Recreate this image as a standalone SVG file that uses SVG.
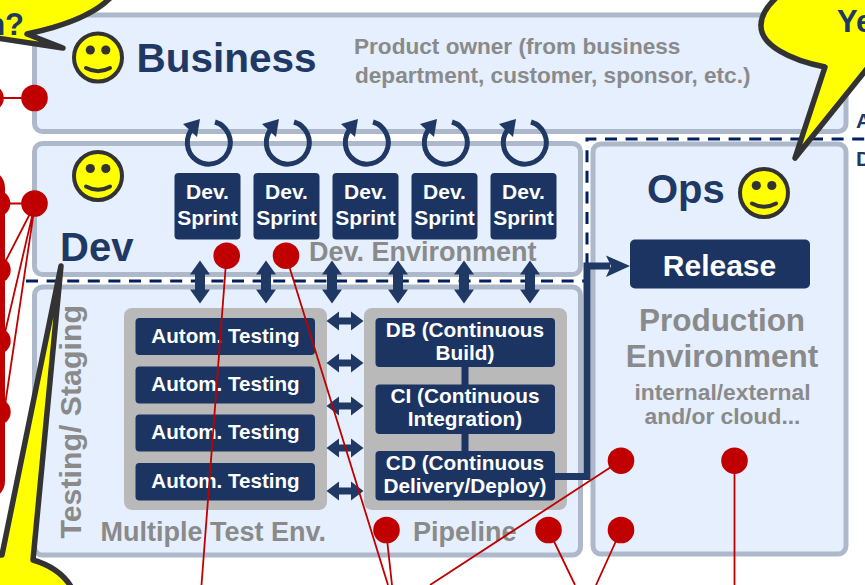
<svg xmlns="http://www.w3.org/2000/svg" xmlns:xlink="http://www.w3.org/1999/xlink" width="865" height="585" viewBox="0 0 865 585">
<style>
text{font-family:"Liberation Sans",Arial,sans-serif;font-weight:700}
.panel{fill:#e5effe;stroke:#adb9ca;stroke-width:5}
.box{fill:#1c3461}
.gray{fill:#b9b9b9}
.w{fill:#fff;text-anchor:middle}
.g{fill:#8a8a8a}
.n{fill:#1f3864}
.dash{fill:none;stroke:#002060;stroke-width:3;stroke-dasharray:12 8.6}
.red{fill:none;stroke:#c00000;stroke-width:1.8}
.dot{fill:#c00000}
.bub{fill:#ff0;stroke:#333;stroke-width:5.5;stroke-linejoin:round}
.arr{fill:#1f3864}
</style>
<defs>
<g id="smile">
<circle r="24" fill="#ff0" stroke="#333" stroke-width="4"/>
<circle cx="-7.7" cy="-7.5" r="4.6" fill="#333"/>
<circle cx="7.8" cy="-7.5" r="4.6" fill="#333"/>
<path d="M-12 10.5Q0 17 12 10.5" fill="none" stroke="#333" stroke-width="4" stroke-linecap="round"/>
</g>
<g id="loop">
<path d="M7.5 -20.5A21.5 21.5 0 1 1 -14 -15" fill="none" stroke="#1f3864" stroke-width="5"/>
<path d="M-24.5 -18.5L-7.5 -23.5L-10.500 -5.500Z" fill="#1f3864"/>
</g>
<path id="v" d="M0 -21.500L10 -7.500H5V7.500H10L0 21.500L-10 7.500H-5V-7.500H-10Z"/>
<path id="h" d="M-18.500 0L-6 -9.500V-3.500H6V-9.500L18.500 0L6 9.500V3.500H-6V9.500Z"/>
</defs>

<g id="panel-business"><rect class="panel" x="34.500" y="15" width="811.500" height="116.500" rx="8"/></g>
<g id="panel-dev"><rect class="panel" x="34.500" y="143.500" width="546" height="131" rx="8"/></g>
<g id="panel-testing"><rect class="panel" x="34.500" y="287" width="546" height="268" rx="8"/></g>
<g id="panel-ops"><rect class="panel" x="593" y="144" width="253" height="410" rx="8"/></g>

<path class="dash" d="M26 281H587V139H865"/>

<g id="business">
<use href="#smile" x="98" y="57.500"/>
<text class="n" x="136.500" y="72" font-size="40.500">Business</text>
<text class="g" x="354" y="54" font-size="22.600">Product owner (from business</text>
<text class="g" x="355" y="83" font-size="22.600">department, customer, sponsor, etc.)</text>
</g>
<g id="dev">
<use href="#smile" x="98" y="176"/>
<text class="n" x="60" y="261" font-size="40">Dev</text>
<text class="g" x="309" y="261" font-size="27">Dev. Environment</text>
</g>
<g id="ops">
<use href="#smile" x="764" y="193"/>
<text class="n" x="647" y="203" font-size="40">Ops</text>
</g>

<g id="sprint-1"><use href="#loop" x="207.500" y="142.500"/><rect class="box" x="174.500" y="173" width="66" height="66.500" rx="4"/><text class="w" x="207.500" y="199" font-size="21">Dev.</text><text class="w" x="207.500" y="225" font-size="21">Sprint</text></g>
<g id="sprint-2"><use href="#loop" x="286.500" y="142.500"/><rect class="box" x="253.500" y="173" width="66" height="66.500" rx="4"/><text class="w" x="286.500" y="199" font-size="21">Dev.</text><text class="w" x="286.500" y="225" font-size="21">Sprint</text></g>
<g id="sprint-3"><use href="#loop" x="365.500" y="142.500"/><rect class="box" x="332.500" y="173" width="66" height="66.500" rx="4"/><text class="w" x="365.500" y="199" font-size="21">Dev.</text><text class="w" x="365.500" y="225" font-size="21">Sprint</text></g>
<g id="sprint-4"><use href="#loop" x="444.500" y="142.500"/><rect class="box" x="411.500" y="173" width="66" height="66.500" rx="4"/><text class="w" x="444.500" y="199" font-size="21">Dev.</text><text class="w" x="444.500" y="225" font-size="21">Sprint</text></g>
<g id="sprint-5"><use href="#loop" x="523.500" y="142.500"/><rect class="box" x="490.500" y="173" width="66" height="66.500" rx="4"/><text class="w" x="523.500" y="199" font-size="21">Dev.</text><text class="w" x="523.500" y="225" font-size="21">Sprint</text></g>

<g id="testing">
<text class="g" transform="translate(80.500 538.500) rotate(-90)" font-size="30.300">Testing/ Staging</text>
<rect class="gray" x="124" y="308" width="203" height="202" rx="8"/>
<text class="g" x="100.500" y="541" font-size="27">Multiple Test Env.</text>
</g>
<g id="autom-1"><rect class="box" x="135.500" y="318" width="179.500" height="37" rx="4"/><text class="w" x="225.500" y="342.500" font-size="20.600">Autom. Testing</text></g>
<g id="autom-2"><rect class="box" x="135.500" y="366.500" width="179.500" height="37" rx="4"/><text class="w" x="225.500" y="390.500" font-size="20.600">Autom. Testing</text></g>
<g id="autom-3"><rect class="box" x="135.500" y="414.500" width="179.500" height="37" rx="4"/><text class="w" x="225.500" y="439" font-size="20.600">Autom. Testing</text></g>
<g id="autom-4"><rect class="box" x="135.500" y="463" width="179.500" height="37.500" rx="4"/><text class="w" x="225.500" y="487.500" font-size="20.600">Autom. Testing</text></g>

<g id="pipeline">
<rect class="gray" x="364" y="308" width="203" height="202" rx="8"/>
<rect class="box" x="461.500" y="365" width="7" height="88"/>
<text class="g" x="413" y="541" font-size="27">Pipeline</text>
</g>
<g id="db"><rect class="box" x="375.500" y="318" width="179.500" height="49" rx="4"/><text class="w" x="465" y="337" font-size="20.800">DB (Continuous</text><text class="w" x="465" y="360" font-size="20.800">Build)</text></g>
<g id="ci"><rect class="box" x="375.500" y="384.500" width="179.500" height="49.500" rx="4"/><text class="w" x="465" y="403" font-size="20.800">CI (Continuous</text><text class="w" x="465" y="426" font-size="20.800">Integration)</text></g>
<g id="cd"><rect class="box" x="375.500" y="451" width="179.500" height="49.500" rx="4"/><text class="w" x="465" y="470" font-size="20.800">CD (Continuous</text><text class="w" x="465" y="493" font-size="20.800">Delivery/Deploy)</text></g>

<g id="production">
<rect class="box" x="630" y="239.500" width="180" height="49" rx="5"/>
<text class="w" x="719.500" y="276" font-size="30">Release</text>
<text class="g" x="722" y="331" font-size="31.500" text-anchor="middle">Production</text>
<text class="g" x="722" y="367" font-size="31.500" text-anchor="middle">Environment</text>
<text class="g" x="722.500" y="400" font-size="22.800" text-anchor="middle">internal/external</text>
<text class="g" x="722.500" y="424" font-size="22.800" text-anchor="middle">and/or cloud...</text>
</g>

<g id="connectors">
<g class="arr">
<use href="#v" x="200" y="282"/><use href="#v" x="266" y="282"/><use href="#v" x="332" y="282"/><use href="#v" x="398" y="282"/><use href="#v" x="464" y="282"/><use href="#v" x="530" y="282"/>
<use href="#h" x="345" y="321"/><use href="#h" x="345" y="363"/><use href="#h" x="345" y="406"/><use href="#h" x="345" y="448"/><use href="#h" x="345" y="491"/>
</g>
<path d="M555 476.500H587V266H610" fill="none" stroke="#1f3864" stroke-width="7"/>
<path class="arr" d="M630 266L606 255.500L611 266L606 277Z"/>
<rect x="-100" y="172" width="102.500" height="325" rx="16" fill="none" stroke="#c00000" stroke-width="5"/>
<path class="red" d="M-9 98H34.500M-3 203.500H34.500M35 204L0 272M35 204L3 341M35 204L4 412M226.500 256L201.500 585M286 256L388 585M386 530L392 585M621 460.500L430 585M548.500 530L575 585M621 530L596 585M734.500 460.500V585"/>
<g class="dot">
<circle cx="-9.500" cy="98" r="13.300"/><circle cx="34.500" cy="98" r="13.300"/>
<circle cx="-3" cy="203.500" r="13.300"/><circle cx="34.500" cy="203.500" r="13.300"/>
<circle cx="-2.600" cy="270" r="13.300"/><circle cx="-2.600" cy="341" r="13.300"/><circle cx="-2.600" cy="412" r="13.300"/>
<circle cx="226.700" cy="255.700" r="13.300"/><circle cx="286" cy="255.700" r="13.300"/>
<circle cx="386.500" cy="530" r="13.300"/><circle cx="548.500" cy="530" r="13.300"/><circle cx="621" cy="530" r="13.300"/>
<circle cx="621" cy="460.700" r="13.300"/><circle cx="734.500" cy="460.700" r="13.300"/>
</g>
</g>

<g id="bubble-left">
<path class="bub" d="M63 48L27 34C60 27 95 15 112 -4H-10V37Z"/>
<text class="n" x="24" y="35" font-size="31" text-anchor="end">n?</text>
</g>
<g id="bubble-right">
<path class="bub" d="M795 158L825 67C790 60 760 45 761 25C761 15 768 5 778 -4H870V65Z"/>
<text class="n" x="837" y="32" font-size="31">Ye</text>
</g>
<g id="bubble-bottom">
<path class="bub" d="M61 266L33 560C50 565 65 575 73 590H-10V555H2Z"/>
</g>
<text class="n" x="856" y="128" font-size="21">A</text>
<text class="n" x="856" y="166" font-size="21">D</text>
</svg>
